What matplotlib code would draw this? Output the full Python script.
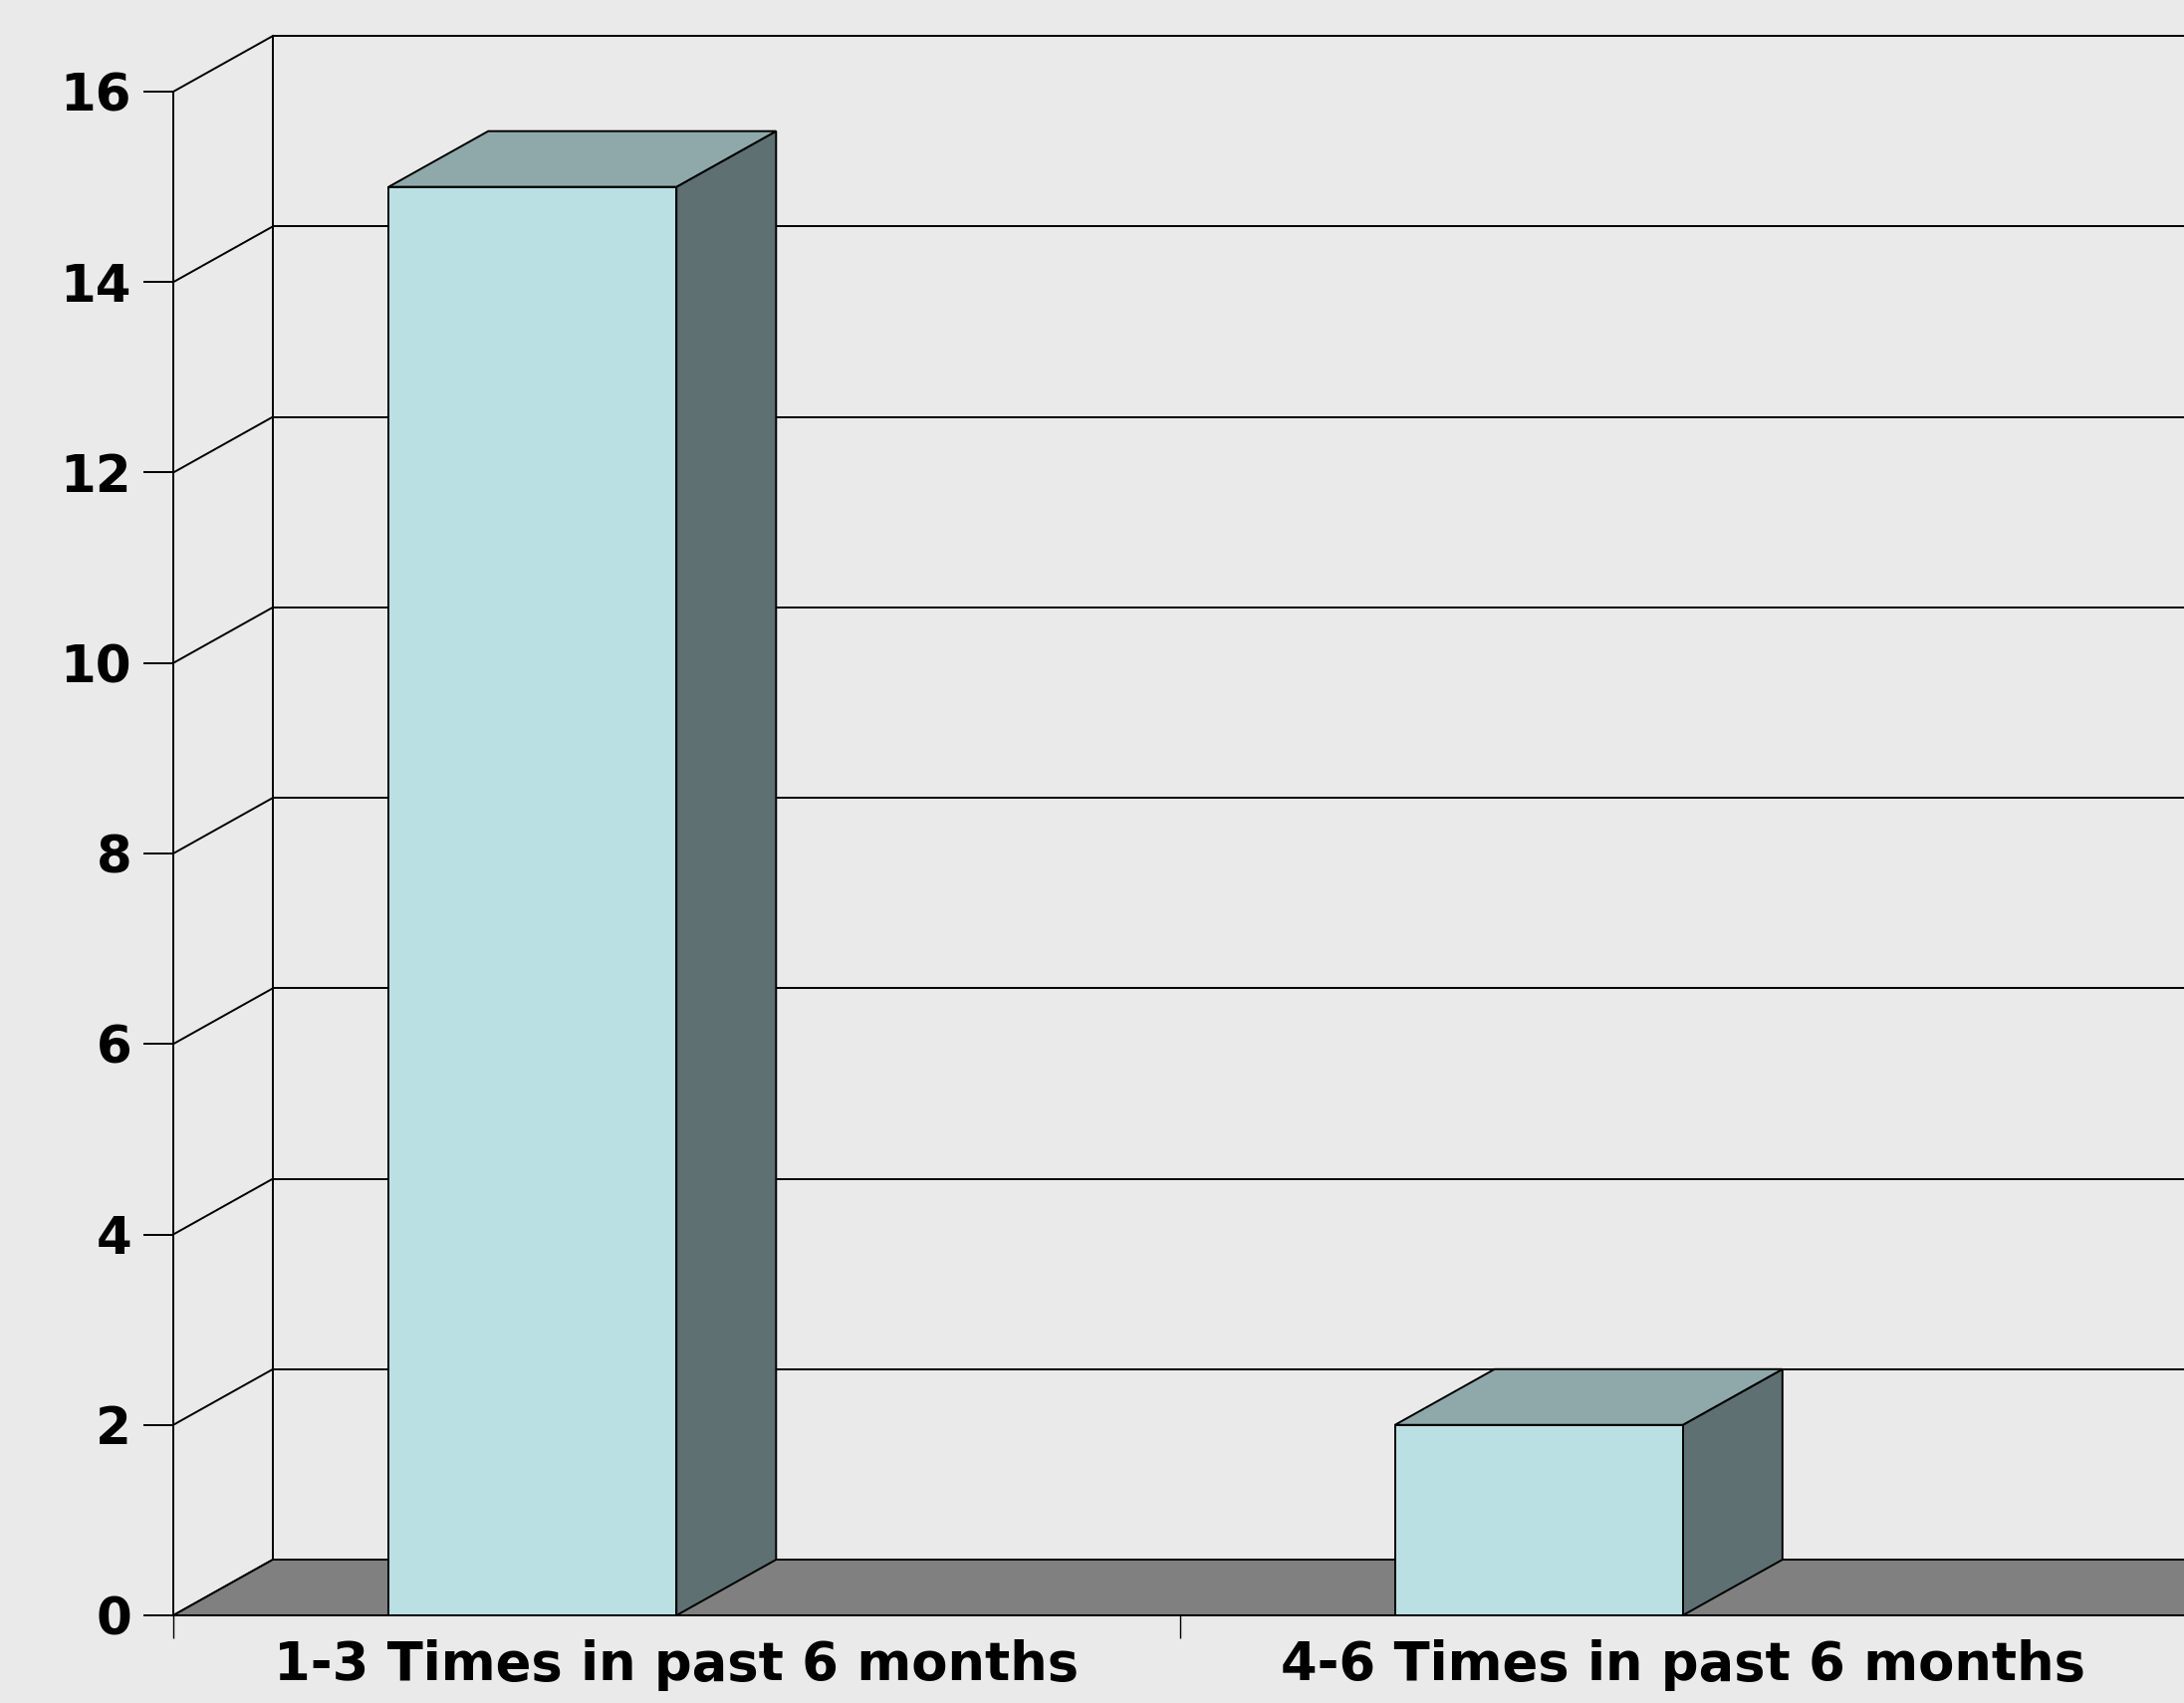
import matplotlib.pyplot as plt
from matplotlib.patches import Polygon, Rectangle

categories = ["1-3 Times in past 6 months", "4-6 Times in past 6 months"]
values = [15, 2]
yticks = [0, 2, 4, 6, 8, 10, 12, 14, 16]

# look of the pseudo-3D chart
bg = "#EAEAEA"
front_col = "#BAE0E3"
top_col = "#8FA9AB"
side_col = "#5E7072"
floor_col = "#808080"
dx, dy = 0.099, 0.585      # depth offset in data units
bar_off, bar_w = 0.214, 0.286

plt.rcParams['font.family'] = ['DejaVu Sans']
plt.rcParams['font.weight'] = 'bold'

fig = plt.figure(figsize=(21.93, 17.10), dpi=100, facecolor=bg)
ax = fig.add_axes([174 / 2193, 88 / 1710, 2021 / 2193, (1622 - 92) / 1710])
ax.set_facecolor("none")
ax.set_xlim(0, 2)
ax.set_ylim(0, 16)

lw = 1.4
xmax = 2.3

# walls: back-axis, horizontal grid on back wall and diagonals on side wall
ax.plot([dx, dx], [dy, 16 + dy], color="black", lw=lw, clip_on=False, zorder=1)
for v in yticks:
    ax.plot([0, dx], [v, v + dy], color="black", lw=lw, clip_on=False, zorder=1)
    if v > 0:
        ax.plot([dx, xmax], [v + dy, v + dy], color="black", lw=lw,
                clip_on=False, zorder=1)

# floor
ax.add_patch(Polygon([(0, 0), (xmax, 0), (xmax, dy), (dx, dy)],
                     closed=True, facecolor=floor_col, edgecolor="black",
                     lw=lw, clip_on=False, zorder=2))

# bars
for i, h in enumerate(values):
    x0 = i + bar_off
    x1 = x0 + bar_w
    ax.add_patch(Polygon([(x1, 0), (x1 + dx, dy), (x1 + dx, h + dy), (x1, h)],
                         closed=True, facecolor=side_col, edgecolor="black",
                         lw=lw, clip_on=False, zorder=3))
    ax.add_patch(Polygon([(x0, h), (x1, h), (x1 + dx, h + dy), (x0 + dx, h + dy)],
                         closed=True, facecolor=top_col, edgecolor="black",
                         lw=lw, clip_on=False, zorder=3))
    ax.add_patch(Rectangle((x0, 0), bar_w, h, facecolor=front_col,
                           edgecolor="black", lw=lw, clip_on=False, zorder=4))

for s in ["top", "right"]:
    ax.spines[s].set_visible(False)
for s in ["left", "bottom"]:
    ax.spines[s].set_linewidth(lw)
    ax.spines[s].set_zorder(5)

ax.set_yticks(yticks)
ax.set_yticklabels([str(v) for v in yticks], fontsize=37, fontweight="bold")
ax.tick_params(axis="y", length=21.6, width=lw, pad=8.5)

ax.set_xticks([0, 1, 2])
ax.set_xticklabels(["", "", ""])
ax.set_xticks([0.5, 1.5], minor=True)
ax.set_xticklabels(categories, minor=True, fontsize=38, fontweight="bold")
ax.tick_params(axis="x", which="major", length=16.6, width=1.0)
ax.tick_params(axis="x", which="minor", length=0, pad=17)

fig.savefig("out.png", dpi=100, facecolor=bg)
